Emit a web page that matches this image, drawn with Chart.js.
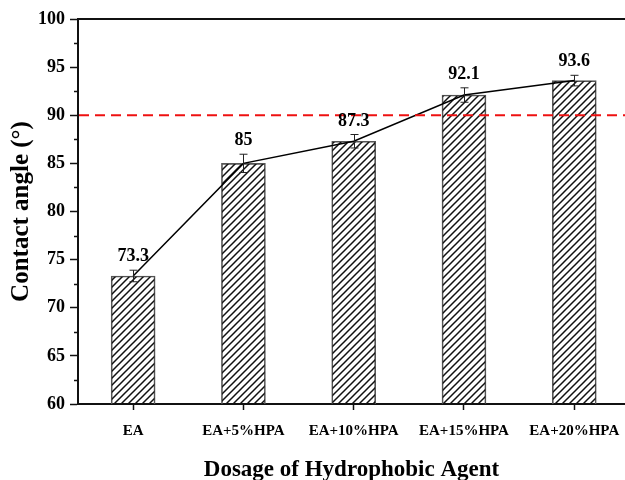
<!DOCTYPE html>
<html>
<head>
<meta charset="utf-8">
<script src="https://cdn.jsdelivr.net/npm/chart.js@4"></script>
<style>
  html, body { margin: 0; padding: 0; background: #fff; }
  #wrap { width: 625px; height: 480px; position: relative; }
</style>
</head>
<body>
<div id="wrap"><canvas id="chart"></canvas></div>
<script>
// chart values
const categories = ['EA', 'EA+5%HPA', 'EA+10%HPA', 'EA+15%HPA', 'EA+20%HPA'];
const contactAngle = [73.3, 85, 87.3, 92.1, 93.6];
const angleError = [0.6, 0.95, 0.7, 0.75, 0.55];
const valueLabels = ['73.3', '85', '87.3', '92.1', '93.6'];
const hydrophobicLimit = 90;
const yMin = 60, yMax = 100, yStep = 5;

const serif = '"Liberation Serif", "Times New Roman", serif';

// diagonal hatch used to fill the bars
function makeHatch() {
  const size = 7;
  const c = document.createElement('canvas');
  c.width = size; c.height = size;
  const g = c.getContext('2d');
  g.strokeStyle = '#111';
  g.lineWidth = 1.5;
  g.beginPath();
  g.moveTo(-1, size + 1); g.lineTo(size + 1, -1);
  g.moveTo(-1, 1); g.lineTo(1, -1);
  g.moveTo(size - 1, size + 1); g.lineTo(size + 1, size - 1);
  g.stroke();
  return g.createPattern(c, 'repeat');
}

const points = contactAngle.map((v, i) => ({ x: i, y: v }));

// error bars, value labels, reference line, top frame and minor ticks
const extras = {
  id: 'extras',
  afterDatasetsDraw(chart) {
    const ctx = chart.ctx;
    const x = chart.scales.x, y = chart.scales.y;
    const area = chart.chartArea;
    ctx.save();

    // red dashed line at 90
    const yl = y.getPixelForValue(hydrophobicLimit);
    ctx.strokeStyle = '#ee1111';
    ctx.lineWidth = 2;
    ctx.setLineDash([10, 6]);
    ctx.beginPath();
    ctx.moveTo(area.left + 1, yl);
    ctx.lineTo(area.right, yl);
    ctx.stroke();
    ctx.setLineDash([]);

    // error bars
    ctx.strokeStyle = '#222';
    ctx.lineWidth = 1;
    contactAngle.forEach((v, i) => {
      const px = Math.round(x.getPixelForValue(i)) + 0.5;
      const top = y.getPixelForValue(v + angleError[i]);
      const bot = y.getPixelForValue(v - angleError[i]);
      ctx.beginPath();
      ctx.moveTo(px, top); ctx.lineTo(px, bot);
      ctx.moveTo(px - 4, top); ctx.lineTo(px + 4, top);
      ctx.moveTo(px - 4, bot); ctx.lineTo(px + 4, bot);
      ctx.stroke();
    });

    // value labels
    ctx.fillStyle = '#000';
    ctx.font = 'bold 18px ' + serif;
    ctx.textAlign = 'center';
    ctx.textBaseline = 'alphabetic';
    contactAngle.forEach((v, i) => {
      const px = x.getPixelForValue(i);
      const top = y.getPixelForValue(v + angleError[i]);
      ctx.fillText(valueLabels[i], px, top - 9);
    });

    // top frame line
    ctx.strokeStyle = '#111';
    ctx.lineWidth = 2;
    ctx.beginPath();
    ctx.moveTo(area.left, area.top);
    ctx.lineTo(area.right, area.top);
    ctx.stroke();

    // minor ticks on y axis
    ctx.lineWidth = 1.5;
    ctx.beginPath();
    for (let v = yMin + yStep / 2; v < yMax; v += yStep) {
      const py = Math.round(y.getPixelForValue(v)) + 0.5;
      ctx.moveTo(area.left - 4, py);
      ctx.lineTo(area.left, py);
    }
    ctx.stroke();
    ctx.restore();
  }
};

const ctx = document.getElementById('chart').getContext('2d');
new Chart(ctx, {
  type: 'bar',
  data: {
    datasets: [
      {
        type: 'line',
        data: points,
        borderColor: '#000',
        borderWidth: 1.5,
        pointRadius: 0,
        tension: 0,
        order: 0
      },
      {
        type: 'bar',
        data: points,
        backgroundColor: makeHatch(),
        borderColor: '#555',
        borderWidth: 1,
        barThickness: 44,
        order: 1
      }
    ]
  },
  options: {
    responsive: true,
    maintainAspectRatio: false,
    animation: false,
    layout: { padding: { top: 19, right: 0, left: 0, bottom: 0 } },
    plugins: {
      legend: { display: false },
      tooltip: { enabled: false }
    },
    scales: {
      x: {
        type: 'linear',
        min: -0.5,
        max: 4.46,
        offset: false,
        afterBuildTicks: (scale) => {
          scale.ticks = categories.map((c, i) => ({ value: i }));
        },
        afterFit: (scale) => {
          scale.height = 76;
          scale.paddingLeft = 0;
          scale.paddingRight = 0;
        },
        grid: {
          offset: false,
          drawOnChartArea: false,
          tickLength: 6,
          tickColor: '#111',
          tickWidth: 1.5
        },
        border: { display: true, color: '#111', width: 2 },
        ticks: {
          autoSkip: false,
          maxRotation: 0,
          padding: 12,
          color: '#000',
          font: { family: serif, size: 15, weight: 'bold' },
          callback: (value) => categories[Math.round(value)]
        },
        title: {
          display: true,
          text: 'Dosage of Hydrophobic Agent',
          color: '#000',
          padding: { top: 0, bottom: 0 },
          font: { family: serif, size: 23, weight: 'bold', lineHeight: 0.9 }
        }
      },
      y: {
        min: yMin,
        max: yMax,
        afterFit: (scale) => { scale.width = 78; },
        grid: {
          drawOnChartArea: false,
          tickLength: 8,
          tickColor: '#111',
          tickWidth: 1.5
        },
        border: { display: true, color: '#111', width: 2 },
        ticks: {
          stepSize: yStep,
          padding: 5,
          color: '#000',
          font: { family: serif, size: 18, weight: 'bold' }
        },
        title: {
          display: true,
          text: 'Contact angle (°)',
          color: '#000',
          padding: { top: 7, bottom: 0 },
          font: { family: serif, size: 25, weight: 'bold', lineHeight: 1.2 }
        }
      }
    }
  },
  plugins: [extras]
});
</script>
</body>
</html>
